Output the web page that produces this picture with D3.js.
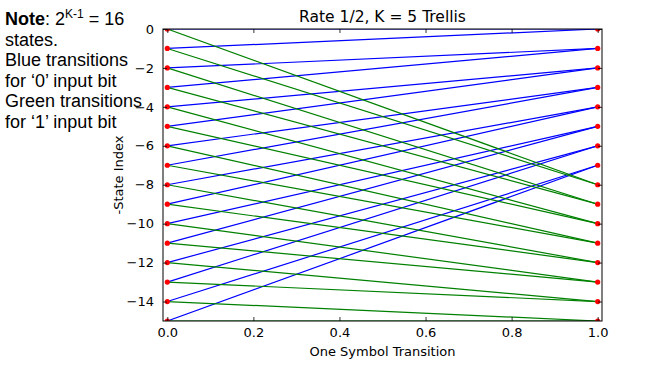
<!DOCTYPE html>
<html>
<head>
<meta charset="utf-8">
<script src="https://cdn.jsdelivr.net/npm/d3@7"></script>
<style>
  html, body { margin: 0; padding: 0; background: #fff; }
</style>
</head>
<body>
<div class="container"></div>
<script>
// states at both time steps (plotted as -state)
const states = [0, 1, 2, 3, 4, 5, 6, 7, 8, 9, 10, 11, 12, 13, 14, 15];
// next state for a '0' input bit (blue)
const nextOnZero = [0, 0, 1, 1, 2, 2, 3, 3, 4, 4, 5, 5, 6, 6, 7, 7];
// next state for a '1' input bit (green)
const nextOnOne = [8, 8, 9, 9, 10, 10, 11, 11, 12, 12, 13, 13, 14, 14, 15, 15];
const xTicks = [0.0, 0.2, 0.4, 0.6, 0.8, 1.0];
const yTicks = [0, -2, -4, -6, -8, -10, -12, -14];

const WIDTH = 652, HEIGHT = 370;
const MARGIN = { top: 29, right: 50, bottom: 49, left: 163 };

const svg = d3.select(".container")
  .append("svg")
  .attr("width", WIDTH)
  .attr("height", HEIGHT)
  .attr("viewBox", `0 0 ${WIDTH} ${HEIGHT}`);

svg.append("rect")
  .attr("width", WIDTH)
  .attr("height", HEIGHT)
  .attr("fill", "#fff");

const x = d3.scaleLinear()
  .domain([-0.01, 1.01])
  .range([MARGIN.left, WIDTH - MARGIN.right]);

const y = d3.scaleLinear()
  .domain([-15, 0])
  .range([HEIGHT - MARGIN.bottom, MARGIN.top]);

const plotW = WIDTH - MARGIN.left - MARGIN.right;
const plotH = HEIGHT - MARGIN.top - MARGIN.bottom;

// clip to the axes box like matplotlib
svg.append("clipPath")
  .attr("id", "plot-clip")
  .append("rect")
  .attr("x", MARGIN.left)
  .attr("y", MARGIN.top)
  .attr("width", plotW)
  .attr("height", plotH);

const plot = svg.append("g").attr("clip-path", "url(#plot-clip)");

// transitions
const blueEdges = states.map((s, i) => ({ from: s, to: nextOnZero[i] }));
const greenEdges = states.map((s, i) => ({ from: s, to: nextOnOne[i] }));

const drawEdges = (edges, color) => {
  plot.append("g")
    .selectAll("line")
    .data(edges)
    .enter()
    .append("line")
    .attr("x1", x(0))
    .attr("x2", x(1))
    .attr("y1", d => y(-d.from))
    .attr("y2", d => y(-d.to))
    .attr("stroke", color)
    .attr("stroke-width", 1.2);
};
drawEdges(blueEdges, "#0000ff");
drawEdges(greenEdges, "#008000");

// state dots
[0, 1].forEach(t => {
  plot.append("g")
    .selectAll("circle")
    .data(states)
    .enter()
    .append("circle")
    .attr("cx", x(t))
    .attr("cy", d => y(-d))
    .attr("r", 2.6)
    .attr("fill", "#ff0000");
});

// axes with inward ticks on all four sides
const font = "'DejaVu Sans', sans-serif";

const styleAxis = g => {
  g.select(".domain").remove();
  g.selectAll(".tick line").attr("stroke", "#000").attr("stroke-width", 0.8);
  g.selectAll(".tick text")
    .attr("font-family", font)
    .attr("font-size", "13px")
    .attr("fill", "#000");
};

svg.append("g")
  .attr("transform", `translate(0,${HEIGHT - MARGIN.bottom})`)
  .call(d3.axisBottom(x).tickValues(xTicks).tickFormat(d3.format(".1f"))
        .tickSizeInner(-4).tickSizeOuter(0).tickPadding(7))
  .call(styleAxis);

svg.append("g")
  .attr("transform", `translate(0,${MARGIN.top})`)
  .call(d3.axisTop(x).tickValues(xTicks).tickFormat("")
        .tickSizeInner(-4).tickSizeOuter(0))
  .call(styleAxis);

svg.append("g")
  .attr("transform", `translate(${MARGIN.left},0)`)
  .call(d3.axisLeft(y).tickValues(yTicks).tickFormat(d => d3.format("d")(d).replace("-", "\u2212"))
        .tickSizeInner(-4).tickSizeOuter(0).tickPadding(9))
  .call(styleAxis);

svg.append("g")
  .attr("transform", `translate(${WIDTH - MARGIN.right},0)`)
  .call(d3.axisRight(y).tickValues(yTicks).tickFormat("")
        .tickSizeInner(-4).tickSizeOuter(0))
  .call(styleAxis);

// frame
svg.append("rect")
  .attr("x", MARGIN.left)
  .attr("y", MARGIN.top)
  .attr("width", plotW)
  .attr("height", plotH)
  .attr("fill", "none")
  .attr("stroke", "#000")
  .attr("stroke-width", 1);

// title and axis labels
svg.append("text")
  .attr("x", MARGIN.left + plotW / 2)
  .attr("y", 22)
  .attr("text-anchor", "middle")
  .attr("font-family", font)
  .attr("font-size", "15.5px")
  .text("Rate 1/2, K = 5 Trellis");

svg.append("text")
  .attr("x", MARGIN.left + plotW / 2)
  .attr("y", 356)
  .attr("text-anchor", "middle")
  .attr("font-family", font)
  .attr("font-size", "13px")
  .text("One Symbol Transition");

svg.append("text")
  .attr("transform", `translate(123,${MARGIN.top + plotH / 2}) rotate(-90)`)
  .attr("text-anchor", "middle")
  .attr("font-family", font)
  .attr("font-size", "13px")
  .text("-State Index");

// note on the left
const noteFont = "'Liberation Sans', Arial, sans-serif";
const note = svg.append("g")
  .attr("font-family", noteFont)
  .attr("font-size", "18px")
  .attr("fill", "#000");

const first = note.append("text").attr("x", 5).attr("y", 25);
first.append("tspan").attr("font-weight", "bold").text("Note");
first.append("tspan").text(": 2");
first.append("tspan").attr("font-size", "12px").attr("dy", -7).text("K-1");
first.append("tspan").attr("dy", 7).text(" = 16");

const noteLines = ["states.", "Blue transitions", "for \u20180\u2019 input bit",
                   "Green transitions", "for \u20181\u2019 input bit"];
note.selectAll("text.line")
  .data(noteLines)
  .enter()
  .append("text")
  .attr("class", "line")
  .attr("x", 5)
  .attr("y", (d, i) => 46 + i * 20.4)
  .text(d => d);
</script>
</body>
</html>
